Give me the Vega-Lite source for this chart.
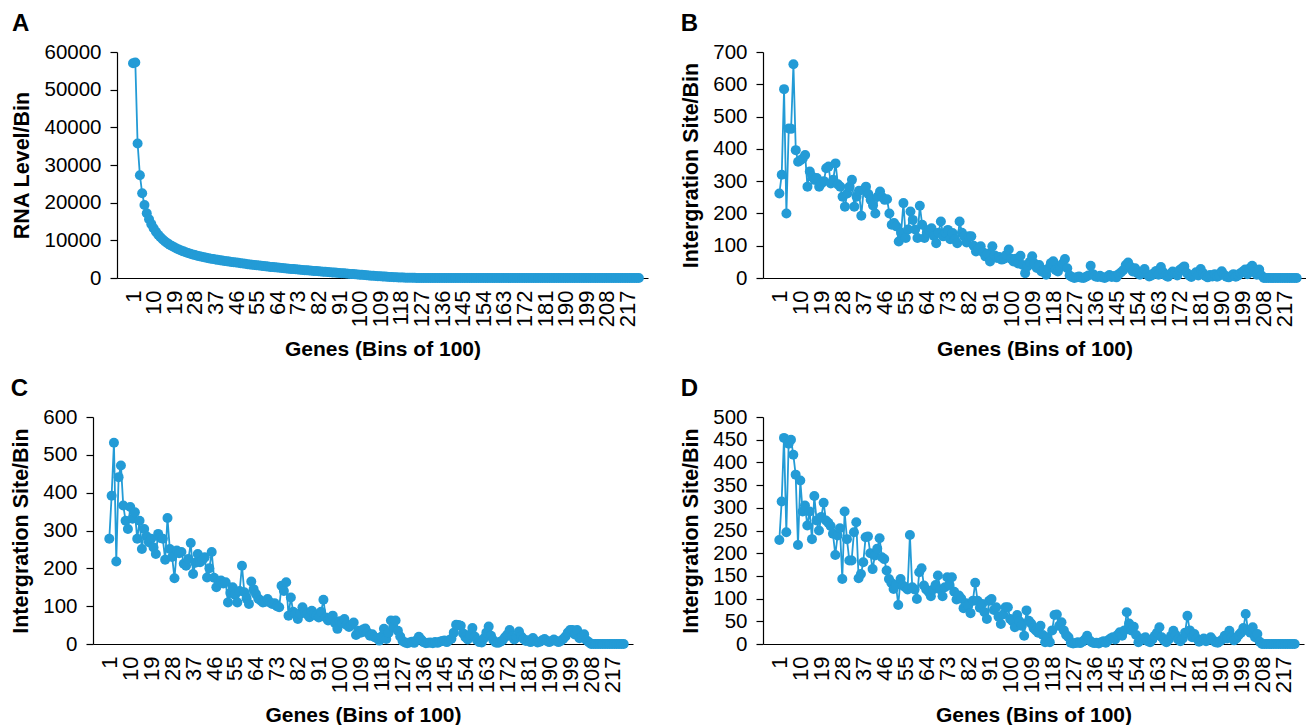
{
"$schema": "https://vega.github.io/schema/vega-lite/v6.json",
"padding": {"left": 10, "top": 12, "right": 0, "bottom": 0},
"config": {
 "font": "Liberation Sans",
 "view": {"stroke": null},
 "axis": {"domainColor": "#000", "domainWidth": 1.2, "tickColor": "#000", "tickWidth": 1.2, "tickSize": 7, "labelFontSize": 20.5, "labelColor": "#000", "titleFontSize": 21.5, "titleFontWeight": "bold", "titleColor": "#000", "grid": false, "labelPadding": 9},
 "axisX": {"ticks": false, "labelAngle": 270, "labelFontSize": 22, "labelPadding": 12, "titlePadding": 12, "titleFontSize": 21, "labelOverlap": false, "labelFlush": false},
 "axisY": {"titlePadding": 10, "labelOverlap": false, "labelFlush": false},
 "title": {"fontSize": 24, "fontWeight": "bold", "anchor": "start", "frame": "bounds", "color": "#000", "offset": 6}
},
"datasets": {
 "a": [{"x":1,"y":57000},{"x":2,"y":57200},{"x":3,"y":35700},{"x":4,"y":27300},{"x":5,"y":22500},{"x":6,"y":19400},{"x":7,"y":17200},{"x":8,"y":15600},{"x":9,"y":14300},{"x":10,"y":13200},
{"x":11,"y":12300},{"x":12,"y":11500},{"x":13,"y":10800},{"x":14,"y":10200},{"x":15,"y":9700},{"x":16,"y":9250},{"x":17,"y":8850},{"x":18,"y":8480},{"x":19,"y":8150},{"x":20,"y":7850},
{"x":21,"y":7570},{"x":22,"y":7310},{"x":23,"y":7070},{"x":24,"y":6850},{"x":25,"y":6640},{"x":26,"y":6450},{"x":27,"y":6270},{"x":28,"y":6100},{"x":29,"y":5940},{"x":30,"y":5790},
{"x":31,"y":5650},{"x":32,"y":5510},{"x":33,"y":5380},{"x":34,"y":5260},{"x":35,"y":5140},{"x":36,"y":5030},{"x":37,"y":4920},{"x":38,"y":4820},{"x":39,"y":4720},{"x":40,"y":4620},
{"x":41,"y":4530},{"x":42,"y":4440},{"x":43,"y":4350},{"x":44,"y":4270},{"x":45,"y":4190},{"x":46,"y":4110},{"x":47,"y":4030},{"x":48,"y":3940},{"x":49,"y":3850},{"x":50,"y":3760},
{"x":51,"y":3680},{"x":52,"y":3600},{"x":53,"y":3520},{"x":54,"y":3440},{"x":55,"y":3370},{"x":56,"y":3300},{"x":57,"y":3230},{"x":58,"y":3160},{"x":59,"y":3090},{"x":60,"y":3020},
{"x":61,"y":2950},{"x":62,"y":2890},{"x":63,"y":2830},{"x":64,"y":2770},{"x":65,"y":2710},{"x":66,"y":2650},{"x":67,"y":2590},{"x":68,"y":2530},{"x":69,"y":2470},{"x":70,"y":2410},
{"x":71,"y":2360},{"x":72,"y":2300},{"x":73,"y":2250},{"x":74,"y":2190},{"x":75,"y":2140},{"x":76,"y":2090},{"x":77,"y":2030},{"x":78,"y":1980},{"x":79,"y":1930},{"x":80,"y":1880},
{"x":81,"y":1830},{"x":82,"y":1780},{"x":83,"y":1730},{"x":84,"y":1680},{"x":85,"y":1630},{"x":86,"y":1580},{"x":87,"y":1530},{"x":88,"y":1480},{"x":89,"y":1430},{"x":90,"y":1380},
{"x":91,"y":1330},{"x":92,"y":1280},{"x":93,"y":1230},{"x":94,"y":1180},{"x":95,"y":1130},{"x":96,"y":1080},{"x":97,"y":1030},{"x":98,"y":980},{"x":99,"y":930},{"x":100,"y":880},
{"x":101,"y":830},{"x":102,"y":780},{"x":103,"y":730},{"x":104,"y":680},{"x":105,"y":630},{"x":106,"y":585},{"x":107,"y":540},{"x":108,"y":495},{"x":109,"y":450},{"x":110,"y":410},
{"x":111,"y":370},{"x":112,"y":330},{"x":113,"y":295},{"x":114,"y":260},{"x":115,"y":225},{"x":116,"y":195},{"x":117,"y":165},{"x":118,"y":140},{"x":119,"y":115},{"x":120,"y":95},
{"x":121,"y":75},{"x":122,"y":60},{"x":123,"y":45},{"x":124,"y":35},{"x":125,"y":25},{"x":126,"y":18},{"x":127,"y":12},{"x":128,"y":8},{"x":129,"y":5},{"x":130,"y":3},
{"x":131,"y":2},{"x":132,"y":2},{"x":133,"y":2},{"x":134,"y":2},{"x":135,"y":2},{"x":136,"y":2},{"x":137,"y":2},{"x":138,"y":2},{"x":139,"y":2},{"x":140,"y":2},
{"x":141,"y":1},{"x":142,"y":1},{"x":143,"y":1},{"x":144,"y":1},{"x":145,"y":1},{"x":146,"y":1},{"x":147,"y":1},{"x":148,"y":1},{"x":149,"y":1},{"x":150,"y":1},
{"x":151,"y":1},{"x":152,"y":1},{"x":153,"y":1},{"x":154,"y":1},{"x":155,"y":1},{"x":156,"y":1},{"x":157,"y":1},{"x":158,"y":1},{"x":159,"y":1},{"x":160,"y":1},
{"x":161,"y":0},{"x":162,"y":0},{"x":163,"y":0},{"x":164,"y":0},{"x":165,"y":0},{"x":166,"y":0},{"x":167,"y":0},{"x":168,"y":0},{"x":169,"y":0},{"x":170,"y":0},
{"x":171,"y":0},{"x":172,"y":0},{"x":173,"y":0},{"x":174,"y":0},{"x":175,"y":0},{"x":176,"y":0},{"x":177,"y":0},{"x":178,"y":0},{"x":179,"y":0},{"x":180,"y":0},
{"x":181,"y":0},{"x":182,"y":0},{"x":183,"y":0},{"x":184,"y":0},{"x":185,"y":0},{"x":186,"y":0},{"x":187,"y":0},{"x":188,"y":0},{"x":189,"y":0},{"x":190,"y":0},
{"x":191,"y":0},{"x":192,"y":0},{"x":193,"y":0},{"x":194,"y":0},{"x":195,"y":0},{"x":196,"y":0},{"x":197,"y":0},{"x":198,"y":0},{"x":199,"y":0},{"x":200,"y":0},
{"x":201,"y":0},{"x":202,"y":0},{"x":203,"y":0},{"x":204,"y":0},{"x":205,"y":0},{"x":206,"y":0},{"x":207,"y":0},{"x":208,"y":0},{"x":209,"y":0},{"x":210,"y":0},
{"x":211,"y":0},{"x":212,"y":0},{"x":213,"y":0},{"x":214,"y":0},{"x":215,"y":0},{"x":216,"y":0},{"x":217,"y":0},{"x":218,"y":0},{"x":219,"y":0},{"x":220,"y":0},
{"x":221,"y":0},{"x":222,"y":0}],
 "b": [{"x":1,"y":262},{"x":2,"y":320},{"x":3,"y":585},{"x":4,"y":200},{"x":5,"y":463},{"x":6,"y":462},{"x":7,"y":662},{"x":8,"y":396},{"x":9,"y":360},{"x":10,"y":365},
{"x":11,"y":370},{"x":12,"y":381},{"x":13,"y":283},{"x":14,"y":330},{"x":15,"y":314},{"x":16,"y":304},{"x":17,"y":310},{"x":18,"y":283},{"x":19,"y":293},{"x":20,"y":300},
{"x":21,"y":340},{"x":22,"y":345},{"x":23,"y":293},{"x":24,"y":304},{"x":25,"y":355},{"x":26,"y":290},{"x":27,"y":283},{"x":28,"y":252},{"x":29,"y":221},{"x":30,"y":262},
{"x":31,"y":283},{"x":32,"y":304},{"x":33,"y":221},{"x":34,"y":252},{"x":35,"y":270},{"x":36,"y":193},{"x":37,"y":273},{"x":38,"y":283},{"x":39,"y":260},{"x":40,"y":242},
{"x":41,"y":225},{"x":42,"y":200},{"x":43,"y":252},{"x":44,"y":268},{"x":45,"y":250},{"x":46,"y":242},{"x":47,"y":244},{"x":48,"y":200},{"x":49,"y":165},{"x":50,"y":170},
{"x":51,"y":160},{"x":52,"y":113},{"x":53,"y":140},{"x":54,"y":232},{"x":55,"y":124},{"x":56,"y":150},{"x":57,"y":206},{"x":58,"y":180},{"x":59,"y":150},{"x":60,"y":124},
{"x":61,"y":224},{"x":62,"y":165},{"x":63,"y":124},{"x":64,"y":140},{"x":65,"y":149},{"x":66,"y":154},{"x":67,"y":130},{"x":68,"y":108},{"x":69,"y":140},{"x":70,"y":175},
{"x":71,"y":129},{"x":72,"y":140},{"x":73,"y":149},{"x":74,"y":120},{"x":75,"y":139},{"x":76,"y":120},{"x":77,"y":108},{"x":78,"y":175},{"x":79,"y":140},{"x":80,"y":129},
{"x":81,"y":110},{"x":82,"y":129},{"x":83,"y":129},{"x":84,"y":100},{"x":85,"y":82},{"x":86,"y":90},{"x":87,"y":98},{"x":88,"y":80},{"x":89,"y":67},{"x":90,"y":75},
{"x":91,"y":51},{"x":92,"y":98},{"x":93,"y":70},{"x":94,"y":62},{"x":95,"y":65},{"x":96,"y":57},{"x":97,"y":60},{"x":98,"y":72},{"x":99,"y":88},{"x":100,"y":60},
{"x":101,"y":51},{"x":102,"y":60},{"x":103,"y":45},{"x":104,"y":69},{"x":105,"y":40},{"x":106,"y":15},{"x":107,"y":36},{"x":108,"y":50},{"x":109,"y":67},{"x":110,"y":45},
{"x":111,"y":31},{"x":112,"y":40},{"x":113,"y":20},{"x":114,"y":25},{"x":115,"y":10},{"x":116,"y":30},{"x":117,"y":46},{"x":118,"y":52},{"x":119,"y":25},{"x":120,"y":20},
{"x":121,"y":35},{"x":122,"y":45},{"x":123,"y":59},{"x":124,"y":30},{"x":125,"y":8},{"x":126,"y":3},{"x":127,"y":0},{"x":128,"y":2},{"x":129,"y":5},{"x":130,"y":1},
{"x":131,"y":0},{"x":132,"y":4},{"x":133,"y":8},{"x":134,"y":38},{"x":135,"y":12},{"x":136,"y":5},{"x":137,"y":3},{"x":138,"y":7},{"x":139,"y":2},{"x":140,"y":0},
{"x":141,"y":4},{"x":142,"y":9},{"x":143,"y":3},{"x":144,"y":6},{"x":145,"y":2},{"x":146,"y":12},{"x":147,"y":18},{"x":148,"y":25},{"x":149,"y":40},{"x":150,"y":48},
{"x":151,"y":35},{"x":152,"y":20},{"x":153,"y":30},{"x":154,"y":15},{"x":155,"y":10},{"x":156,"y":18},{"x":157,"y":28},{"x":158,"y":12},{"x":159,"y":5},{"x":160,"y":8},
{"x":161,"y":15},{"x":162,"y":22},{"x":163,"y":10},{"x":164,"y":34},{"x":165,"y":18},{"x":166,"y":8},{"x":167,"y":4},{"x":168,"y":12},{"x":169,"y":20},{"x":170,"y":14},
{"x":171,"y":8},{"x":172,"y":25},{"x":173,"y":30},{"x":174,"y":36},{"x":175,"y":16},{"x":176,"y":8},{"x":177,"y":3},{"x":178,"y":10},{"x":179,"y":18},{"x":180,"y":8},
{"x":181,"y":28},{"x":182,"y":15},{"x":183,"y":6},{"x":184,"y":2},{"x":185,"y":9},{"x":186,"y":5},{"x":187,"y":12},{"x":188,"y":4},{"x":189,"y":8},{"x":190,"y":21},
{"x":191,"y":10},{"x":192,"y":4},{"x":193,"y":2},{"x":194,"y":6},{"x":195,"y":12},{"x":196,"y":4},{"x":197,"y":8},{"x":198,"y":15},{"x":199,"y":20},{"x":200,"y":26},
{"x":201,"y":12},{"x":202,"y":30},{"x":203,"y":38},{"x":204,"y":18},{"x":205,"y":10},{"x":206,"y":26},{"x":207,"y":8},{"x":208,"y":0},{"x":209,"y":0},{"x":210,"y":0},
{"x":211,"y":0},{"x":212,"y":0},{"x":213,"y":0},{"x":214,"y":0},{"x":215,"y":0},{"x":216,"y":0},{"x":217,"y":0},{"x":218,"y":0},{"x":219,"y":0},{"x":220,"y":0},
{"x":221,"y":0},{"x":222,"y":0}],
 "c": [{"x":1,"y":278},{"x":2,"y":392},{"x":3,"y":532},{"x":4,"y":218},{"x":5,"y":441},{"x":6,"y":472},{"x":7,"y":366},{"x":8,"y":326},{"x":9,"y":304},{"x":10,"y":362},
{"x":11,"y":331},{"x":12,"y":348},{"x":13,"y":278},{"x":14,"y":326},{"x":15,"y":251},{"x":16,"y":304},{"x":17,"y":285},{"x":18,"y":269},{"x":19,"y":278},{"x":20,"y":255},
{"x":21,"y":238},{"x":22,"y":291},{"x":23,"y":280},{"x":24,"y":278},{"x":25,"y":223},{"x":26,"y":333},{"x":27,"y":251},{"x":28,"y":230},{"x":29,"y":174},{"x":30,"y":247},
{"x":31,"y":240},{"x":32,"y":243},{"x":33,"y":212},{"x":34,"y":207},{"x":35,"y":225},{"x":36,"y":267},{"x":37,"y":185},{"x":38,"y":215},{"x":39,"y":238},{"x":40,"y":216},
{"x":41,"y":222},{"x":42,"y":229},{"x":43,"y":176},{"x":44,"y":200},{"x":45,"y":243},{"x":46,"y":175},{"x":47,"y":150},{"x":48,"y":165},{"x":49,"y":168},{"x":50,"y":160},
{"x":51,"y":163},{"x":52,"y":110},{"x":53,"y":135},{"x":54,"y":150},{"x":55,"y":130},{"x":56,"y":110},{"x":57,"y":140},{"x":58,"y":207},{"x":59,"y":137},{"x":60,"y":120},
{"x":61,"y":106},{"x":62,"y":165},{"x":63,"y":145},{"x":64,"y":132},{"x":65,"y":120},{"x":66,"y":115},{"x":67,"y":110},{"x":68,"y":112},{"x":69,"y":119},{"x":70,"y":110},
{"x":71,"y":106},{"x":72,"y":108},{"x":73,"y":100},{"x":74,"y":97},{"x":75,"y":154},{"x":76,"y":140},{"x":77,"y":163},{"x":78,"y":75},{"x":79,"y":123},{"x":80,"y":85},
{"x":81,"y":80},{"x":82,"y":66},{"x":83,"y":80},{"x":84,"y":97},{"x":85,"y":85},{"x":86,"y":78},{"x":87,"y":71},{"x":88,"y":88},{"x":89,"y":80},{"x":90,"y":75},
{"x":91,"y":70},{"x":92,"y":85},{"x":93,"y":117},{"x":94,"y":70},{"x":95,"y":62},{"x":96,"y":68},{"x":97,"y":75},{"x":98,"y":55},{"x":99,"y":40},{"x":100,"y":60},
{"x":101,"y":55},{"x":102,"y":66},{"x":103,"y":50},{"x":104,"y":45},{"x":105,"y":50},{"x":106,"y":57},{"x":107,"y":24},{"x":108,"y":35},{"x":109,"y":30},{"x":110,"y":38},
{"x":111,"y":41},{"x":112,"y":30},{"x":113,"y":22},{"x":114,"y":26},{"x":115,"y":18},{"x":116,"y":15},{"x":117,"y":9},{"x":118,"y":20},{"x":119,"y":40},{"x":120,"y":13},
{"x":121,"y":30},{"x":122,"y":62},{"x":123,"y":45},{"x":124,"y":62},{"x":125,"y":35},{"x":126,"y":20},{"x":127,"y":8},{"x":128,"y":4},{"x":129,"y":2},{"x":130,"y":4},
{"x":131,"y":6},{"x":132,"y":3},{"x":133,"y":10},{"x":134,"y":19},{"x":135,"y":12},{"x":136,"y":5},{"x":137,"y":2},{"x":138,"y":3},{"x":139,"y":4},{"x":140,"y":2},
{"x":141,"y":5},{"x":142,"y":3},{"x":143,"y":6},{"x":144,"y":8},{"x":145,"y":9},{"x":146,"y":5},{"x":147,"y":10},{"x":148,"y":14},{"x":149,"y":30},{"x":150,"y":51},
{"x":151,"y":50},{"x":152,"y":48},{"x":153,"y":28},{"x":154,"y":18},{"x":155,"y":12},{"x":156,"y":25},{"x":157,"y":42},{"x":158,"y":20},{"x":159,"y":10},{"x":160,"y":5},
{"x":161,"y":4},{"x":162,"y":15},{"x":163,"y":30},{"x":164,"y":46},{"x":165,"y":22},{"x":166,"y":10},{"x":167,"y":4},{"x":168,"y":3},{"x":169,"y":6},{"x":170,"y":10},
{"x":171,"y":18},{"x":172,"y":25},{"x":173,"y":37},{"x":174,"y":20},{"x":175,"y":12},{"x":176,"y":18},{"x":177,"y":33},{"x":178,"y":20},{"x":179,"y":13},{"x":180,"y":8},
{"x":181,"y":10},{"x":182,"y":5},{"x":183,"y":16},{"x":184,"y":8},{"x":185,"y":4},{"x":186,"y":6},{"x":187,"y":10},{"x":188,"y":13},{"x":189,"y":8},{"x":190,"y":5},
{"x":191,"y":8},{"x":192,"y":12},{"x":193,"y":8},{"x":194,"y":5},{"x":195,"y":8},{"x":196,"y":13},{"x":197,"y":20},{"x":198,"y":30},{"x":199,"y":37},{"x":200,"y":37},
{"x":201,"y":25},{"x":202,"y":37},{"x":203,"y":15},{"x":204,"y":20},{"x":205,"y":26},{"x":206,"y":10},{"x":207,"y":5},{"x":208,"y":0},{"x":209,"y":0},{"x":210,"y":0},
{"x":211,"y":0},{"x":212,"y":0},{"x":213,"y":0},{"x":214,"y":0},{"x":215,"y":0},{"x":216,"y":0},{"x":217,"y":0},{"x":218,"y":0},{"x":219,"y":0},{"x":220,"y":0},
{"x":221,"y":0},{"x":222,"y":0}],
 "d": [{"x":1,"y":229},{"x":2,"y":314},{"x":3,"y":454},{"x":4,"y":246},{"x":5,"y":441},{"x":6,"y":450},{"x":7,"y":417},{"x":8,"y":373},{"x":9,"y":218},{"x":10,"y":360},
{"x":11,"y":292},{"x":12,"y":305},{"x":13,"y":261},{"x":14,"y":292},{"x":15,"y":231},{"x":16,"y":326},{"x":17,"y":272},{"x":18,"y":250},{"x":19,"y":280},{"x":20,"y":311},
{"x":21,"y":272},{"x":22,"y":267},{"x":23,"y":260},{"x":24,"y":243},{"x":25,"y":196},{"x":26,"y":239},{"x":27,"y":255},{"x":28,"y":143},{"x":29,"y":292},{"x":30,"y":231},
{"x":31,"y":184},{"x":32,"y":184},{"x":33,"y":246},{"x":34,"y":268},{"x":35,"y":145},{"x":36,"y":154},{"x":37,"y":180},{"x":38,"y":235},{"x":39,"y":237},{"x":40,"y":200},
{"x":41,"y":165},{"x":42,"y":195},{"x":43,"y":210},{"x":44,"y":233},{"x":45,"y":191},{"x":46,"y":187},{"x":47,"y":162},{"x":48,"y":143},{"x":49,"y":135},{"x":50,"y":121},
{"x":51,"y":130},{"x":52,"y":86},{"x":53,"y":143},{"x":54,"y":129},{"x":55,"y":125},{"x":56,"y":120},{"x":57,"y":240},{"x":58,"y":125},{"x":59,"y":120},{"x":60,"y":99},
{"x":61,"y":158},{"x":62,"y":167},{"x":63,"y":129},{"x":64,"y":120},{"x":65,"y":115},{"x":66,"y":105},{"x":67,"y":120},{"x":68,"y":130},{"x":69,"y":151},{"x":70,"y":120},
{"x":71,"y":105},{"x":72,"y":125},{"x":73,"y":147},{"x":74,"y":130},{"x":75,"y":147},{"x":76,"y":115},{"x":77,"y":98},{"x":78,"y":107},{"x":79,"y":100},{"x":80,"y":79},
{"x":81,"y":90},{"x":82,"y":85},{"x":83,"y":68},{"x":84,"y":95},{"x":85,"y":135},{"x":86,"y":95},{"x":87,"y":80},{"x":88,"y":88},{"x":89,"y":70},{"x":90,"y":55},
{"x":91,"y":95},{"x":92,"y":99},{"x":93,"y":75},{"x":94,"y":81},{"x":95,"y":60},{"x":96,"y":44},{"x":97,"y":65},{"x":98,"y":81},{"x":99,"y":81},{"x":100,"y":55},
{"x":101,"y":50},{"x":102,"y":37},{"x":103,"y":64},{"x":104,"y":50},{"x":105,"y":40},{"x":106,"y":18},{"x":107,"y":74},{"x":108,"y":51},{"x":109,"y":45},{"x":110,"y":35},
{"x":111,"y":30},{"x":112,"y":25},{"x":113,"y":40},{"x":114,"y":20},{"x":115,"y":4},{"x":116,"y":15},{"x":117,"y":4},{"x":118,"y":30},{"x":119,"y":64},{"x":120,"y":65},
{"x":121,"y":40},{"x":122,"y":48},{"x":123,"y":30},{"x":124,"y":20},{"x":125,"y":15},{"x":126,"y":3},{"x":127,"y":1},{"x":128,"y":2},{"x":129,"y":4},{"x":130,"y":2},
{"x":131,"y":5},{"x":132,"y":10},{"x":133,"y":18},{"x":134,"y":8},{"x":135,"y":4},{"x":136,"y":2},{"x":137,"y":3},{"x":138,"y":1},{"x":139,"y":4},{"x":140,"y":6},
{"x":141,"y":3},{"x":142,"y":8},{"x":143,"y":12},{"x":144,"y":15},{"x":145,"y":10},{"x":146,"y":20},{"x":147,"y":26},{"x":148,"y":18},{"x":149,"y":30},{"x":150,"y":70},
{"x":151,"y":45},{"x":152,"y":30},{"x":153,"y":38},{"x":154,"y":20},{"x":155,"y":4},{"x":156,"y":8},{"x":157,"y":12},{"x":158,"y":15},{"x":159,"y":6},{"x":160,"y":4},
{"x":161,"y":10},{"x":162,"y":18},{"x":163,"y":25},{"x":164,"y":37},{"x":165,"y":15},{"x":166,"y":8},{"x":167,"y":4},{"x":168,"y":10},{"x":169,"y":18},{"x":170,"y":29},
{"x":171,"y":20},{"x":172,"y":10},{"x":173,"y":6},{"x":174,"y":12},{"x":175,"y":25},{"x":176,"y":62},{"x":177,"y":30},{"x":178,"y":15},{"x":179,"y":22},{"x":180,"y":12},
{"x":181,"y":5},{"x":182,"y":8},{"x":183,"y":12},{"x":184,"y":6},{"x":185,"y":10},{"x":186,"y":15},{"x":187,"y":8},{"x":188,"y":4},{"x":189,"y":3},{"x":190,"y":6},
{"x":191,"y":10},{"x":192,"y":18},{"x":193,"y":12},{"x":194,"y":29},{"x":195,"y":15},{"x":196,"y":8},{"x":197,"y":12},{"x":198,"y":20},{"x":199,"y":25},{"x":200,"y":35},
{"x":201,"y":66},{"x":202,"y":30},{"x":203,"y":25},{"x":204,"y":37},{"x":205,"y":15},{"x":206,"y":22},{"x":207,"y":5},{"x":208,"y":0},{"x":209,"y":0},{"x":210,"y":0},
{"x":211,"y":0},{"x":212,"y":0},{"x":213,"y":0},{"x":214,"y":0},{"x":215,"y":0},{"x":216,"y":0},{"x":217,"y":0},{"x":218,"y":0},{"x":219,"y":0},{"x":220,"y":0},
{"x":221,"y":0},{"x":222,"y":0}]
},
"columns": 2,
"align": "each",
"spacing": {"row": 17, "column": 31},
"concat": [
  {"title": {"text": "A"}, "width": 556, "height": 226, "data": {"name": "a"},
   "encoding": {
    "x": {"field": "x", "type": "quantitative", "scale": {"domain": [-6, 226], "nice": false, "zero": false, "range": [24, 555]}, "axis": {"values": [1,10,19,28,37,46,55,64,73,82,91,100,109,118,127,136,145,154,163,172,181,190,199,208,217], "title": "Genes (Bins of 100)"}},
    "y": {"field": "y", "type": "quantitative", "scale": {"domain": [0, 60000], "nice": false}, "axis": {"values": [0,10000,20000,30000,40000,50000,60000], "format": "d", "title": "RNA Level/Bin", "offset": -24}}
   },
   "layer": [{"mark": {"type": "line", "color": "#239bd6", "strokeWidth": 1.8}}, {"mark": {"type": "circle", "color": "#239bd6", "size": 100, "opacity": 1}}]},
  {"title": {"text": "B"}, "width": 543, "height": 226, "data": {"name": "b"},
   "encoding": {
    "x": {"field": "x", "type": "quantitative", "scale": {"domain": [-6, 226], "nice": false, "zero": false}, "axis": {"values": [1,10,19,28,37,46,55,64,73,82,91,100,109,118,127,136,145,154,163,172,181,190,199,208,217], "title": "Genes (Bins of 100)"}},
    "y": {"field": "y", "type": "quantitative", "scale": {"domain": [0, 700], "nice": false}, "axis": {"values": [0,100,200,300,400,500,600,700], "format": "d", "title": "Intergration Site/Bin"}}
   },
   "layer": [{"mark": {"type": "line", "color": "#239bd6", "strokeWidth": 1.8}}, {"mark": {"type": "circle", "color": "#239bd6", "size": 100, "opacity": 1}}]},
  {"title": {"text": "C"}, "width": 540, "height": 227, "data": {"name": "c"},
   "encoding": {
    "x": {"field": "x", "type": "quantitative", "scale": {"domain": [-6, 226], "nice": false, "zero": false}, "axis": {"values": [1,10,19,28,37,46,55,64,73,82,91,100,109,118,127,136,145,154,163,172,181,190,199,208,217], "title": "Genes (Bins of 100)"}},
    "y": {"field": "y", "type": "quantitative", "scale": {"domain": [0, 600], "nice": false}, "axis": {"values": [0,100,200,300,400,500,600], "format": "d", "title": "Intergration Site/Bin"}}
   },
   "layer": [{"mark": {"type": "line", "color": "#239bd6", "strokeWidth": 1.8}}, {"mark": {"type": "circle", "color": "#239bd6", "size": 100, "opacity": 1}}]},
  {"title": {"text": "D"}, "width": 541, "height": 227, "data": {"name": "d"},
   "encoding": {
    "x": {"field": "x", "type": "quantitative", "scale": {"domain": [-6, 226], "nice": false, "zero": false}, "axis": {"values": [1,10,19,28,37,46,55,64,73,82,91,100,109,118,127,136,145,154,163,172,181,190,199,208,217], "title": "Genes (Bins of 100)"}},
    "y": {"field": "y", "type": "quantitative", "scale": {"domain": [0, 500], "nice": false}, "axis": {"values": [0,50,100,150,200,250,300,350,400,450,500], "format": "d", "title": "Intergration Site/Bin"}}
   },
   "layer": [{"mark": {"type": "line", "color": "#239bd6", "strokeWidth": 1.8}}, {"mark": {"type": "circle", "color": "#239bd6", "size": 100, "opacity": 1}}]}
]
}
